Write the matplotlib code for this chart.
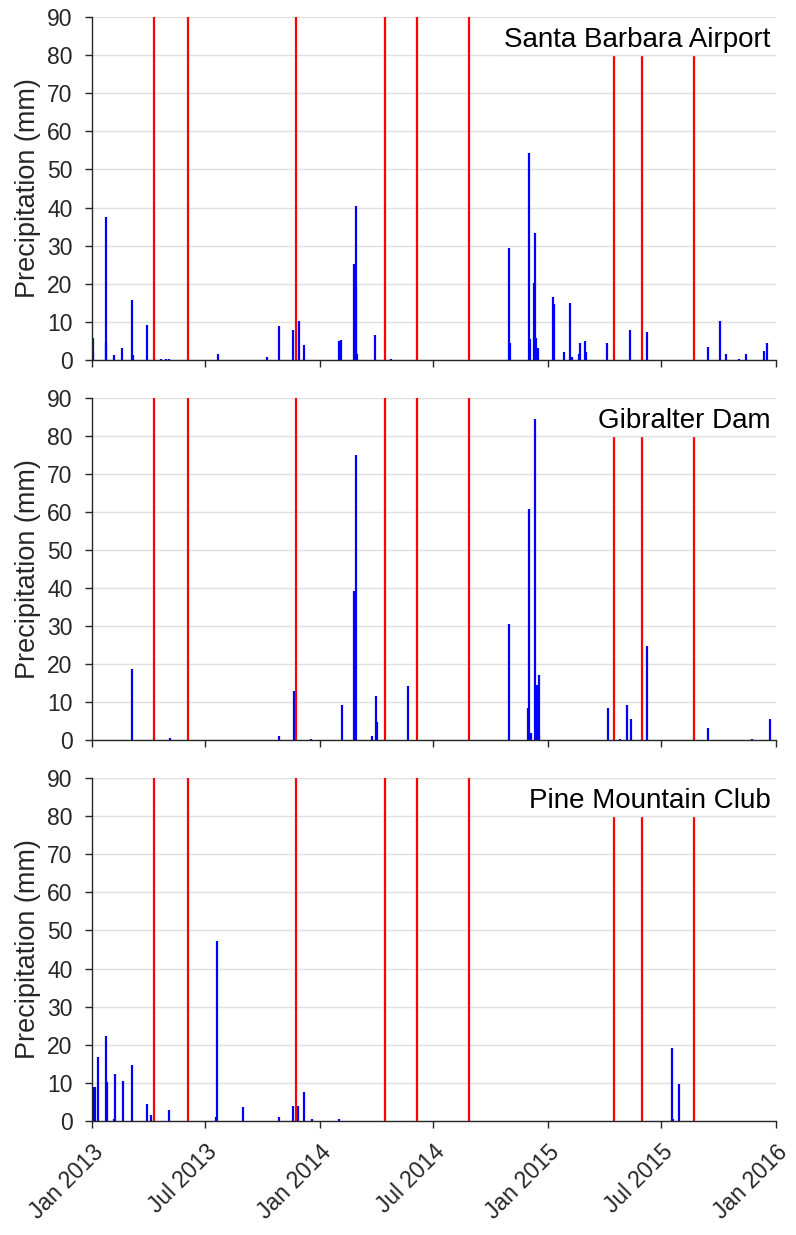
import numpy as np
import pandas as pd
import matplotlib
matplotlib.use('Agg')
import matplotlib.pyplot as plt
import matplotlib.transforms as mtransforms
from matplotlib.patches import Rectangle

plt.rcParams['font.family'] = ['Liberation Sans', 'DejaVu Sans']

# Станции
stations = ['Santa Barbara Airport', 'Gibralter Dam', 'Pine Mountain Club']

# Santa Barbara Airport, суточные осадки (мм)
sb_dates = ['2013-01-02', '2013-01-03', '2013-01-23', '2013-01-24', '2013-02-06',
            '2013-02-18', '2013-03-06', '2013-03-07', '2013-03-30', '2013-04-22',
            '2013-04-29', '2013-05-05', '2013-06-08', '2013-07-21', '2013-10-08',
            '2013-10-28', '2013-11-19', '2013-11-28', '2013-12-06', '2014-01-31',
            '2014-02-04', '2014-02-25', '2014-02-27', '2014-02-28', '2014-03-02',
            '2014-03-30', '2014-04-24', '2014-07-14', '2014-10-30', '2014-11-01',
            '2014-12-01', '2014-12-03', '2014-12-09', '2014-12-11', '2014-12-13',
            '2014-12-16', '2015-01-09', '2015-01-11', '2015-01-26', '2015-02-06',
            '2015-02-08', '2015-02-20', '2015-02-22', '2015-03-01', '2015-03-03',
            '2015-03-11', '2015-04-06', '2015-05-13', '2015-06-08', '2015-07-18',
            '2015-09-14', '2015-10-03', '2015-10-13', '2015-11-02', '2015-11-14',
            '2015-12-12', '2015-12-18']
sb_precip = [2.3, 5.8, 37.4, 4.5, 1.2,
             3.1, 15.7, 1.4, 9.2, 0.2,
             0.2, 0.2, 0.1, 1.7, 0.7,
             9.0, 7.8, 10.3, 4.0, 5.0,
             5.3, 25.2, 40.5, 19.2, 1.6,
             6.5, 0.2, 0.1, 29.3, 4.5,
             54.2, 5.4, 20.1, 33.4, 5.9,
             3.1, 16.6, 14.7, 2.2, 14.9,
             0.7, 1.7, 4.5, 5.0, 2.1,
             0.1, 4.5, 8.0, 7.4, 0.1,
             3.4, 10.2, 1.6, 0.2, 1.7,
             2.4, 4.5]

# Gibralter Dam
gd_dates = ['2013-03-06', '2013-05-06', '2013-10-28', '2013-11-20', '2013-11-22',
            '2013-12-18', '2014-02-06', '2014-02-25', '2014-02-27', '2014-03-26',
            '2014-03-31', '2014-04-02', '2014-05-22', '2014-10-31', '2014-11-30',
            '2014-12-02', '2014-12-04', '2014-12-11', '2014-12-13', '2014-12-15',
            '2014-12-17', '2014-12-18', '2015-04-07', '2015-04-26', '2015-05-07',
            '2015-05-14', '2015-06-09', '2015-09-14', '2015-11-24', '2015-12-22']
gd_precip = [18.7, 0.5, 1.1, 13.0, 9.5,
             0.3, 9.2, 39.3, 74.9, 1.0,
             11.6, 4.8, 14.3, 30.6, 8.3,
             60.9, 1.8, 84.6, 8.8, 14.5,
             17.0, 1.3, 8.3, 0.3, 9.2,
             5.5, 24.8, 3.1, 0.3, 5.5]

# Pine Mountain Club
pm_dates = ['2013-01-04', '2013-01-06', '2013-01-10', '2013-01-23', '2013-01-25',
            '2013-02-05', '2013-02-07', '2013-02-19', '2013-03-06', '2013-03-30',
            '2013-04-06', '2013-05-05', '2013-07-19', '2013-07-20', '2013-08-30',
            '2013-10-28', '2013-11-19', '2013-11-27', '2013-12-07', '2013-12-19',
            '2014-01-31', '2015-07-19', '2015-07-20', '2015-07-30']
pm_precip = [8.9, 9.0, 16.7, 22.4, 10.2,
             0.4, 12.3, 10.5, 14.7, 4.5,
             1.5, 2.8, 1.1, 47.2, 3.6,
             1.0, 3.9, 3.9, 7.5, 0.5,
             0.6, 19.2, 0.5, 9.6]

# Красные линии (даты событий)
event_dates = ['2013-04-10', '2013-06-04', '2013-11-24', '2014-04-15', '2014-06-05',
               '2014-08-28', '2015-04-16', '2015-05-31', '2015-08-23']

tick_dates = ['2013-01-01', '2013-07-01', '2014-01-01', '2014-07-01',
              '2015-01-01', '2015-07-01', '2016-01-01']
tick_labels = ['Jan 2013', 'Jul 2013', 'Jan 2014', 'Jul 2014',
               'Jan 2015', 'Jul 2015', 'Jan 2016']

series = [(sb_dates, sb_precip), (gd_dates, gd_precip), (pm_dates, pm_precip)]

W, H = 796, 1235
fig = plt.figure(figsize=(W / 100, H / 100), dpi=100)

left = 92 / W
width = (776 - 92) / W
panels = [(17, 360), (398, 740), (778, 1121)]
grid_color = '#e0e0e0'

axes = []
for i, (top, bottom) in enumerate(panels):
    ax = fig.add_axes([left, 1 - bottom / H, width, (bottom - top) / H])
    axes.append(ax)
    d, p = series[i]
    ax.vlines(pd.to_datetime(d), 0, p, colors='#0000ff', linewidth=1.6, zorder=2)
    for ed in pd.to_datetime(event_dates):
        ax.axvline(ed, color='#ff0000', linewidth=1.6, zorder=2)

    ax.set_xlim(pd.Timestamp('2013-01-01'), pd.Timestamp('2016-01-01'))
    ax.set_ylim(0, 90)
    ax.set_yticks(np.arange(0, 91, 10))
    ax.set_xticks(pd.to_datetime(tick_dates))
    if i == 2:
        ax.set_xticklabels(tick_labels, rotation=45, ha='right', va='top',
                           rotation_mode='anchor')
    else:
        ax.set_xticklabels([])

    ax.grid(axis='y', color=grid_color, linewidth=1.0)
    ax.set_axisbelow(True)
    for s in ['top', 'right']:
        ax.spines[s].set_visible(False)
    for s in ['left', 'bottom']:
        ax.spines[s].set_color('#262626')
        ax.spines[s].set_linewidth(1.0)
    ax.tick_params(direction='out', length=5, width=1.0, colors='#262626',
                   labelsize=16.5, pad=9)
    ax.set_ylabel('Precipitation (mm)', fontsize=19.5, color='#262626', labelpad=4)

    trans = mtransforms.blended_transform_factory(ax.transAxes, ax.transData)
    ax.text(0.992, 82, stations[i], transform=trans, ha='right', va='baseline',
            fontsize=20, color='black', zorder=5)

# белая подложка под названием станции
fig.canvas.draw()
renderer = fig.canvas.get_renderer()
for ax in axes:
    t = ax.texts[0]
    bb = t.get_window_extent(renderer)
    x0 = ax.transAxes.inverted().transform((bb.x0 - 6, 0))[0]
    trans = mtransforms.blended_transform_factory(ax.transAxes, ax.transData)
    ax.add_patch(Rectangle((x0, 80), 1 - x0, 10, transform=trans,
                           facecolor='white', edgecolor='none', zorder=4,
                           clip_on=False))
    # линии сетки поверх подложки
    for yv in [80, 90]:
        ax.axhline(yv, xmin=x0, xmax=1, color=grid_color, linewidth=1.0, zorder=4.5)

fig.savefig('out.png', dpi=100)
